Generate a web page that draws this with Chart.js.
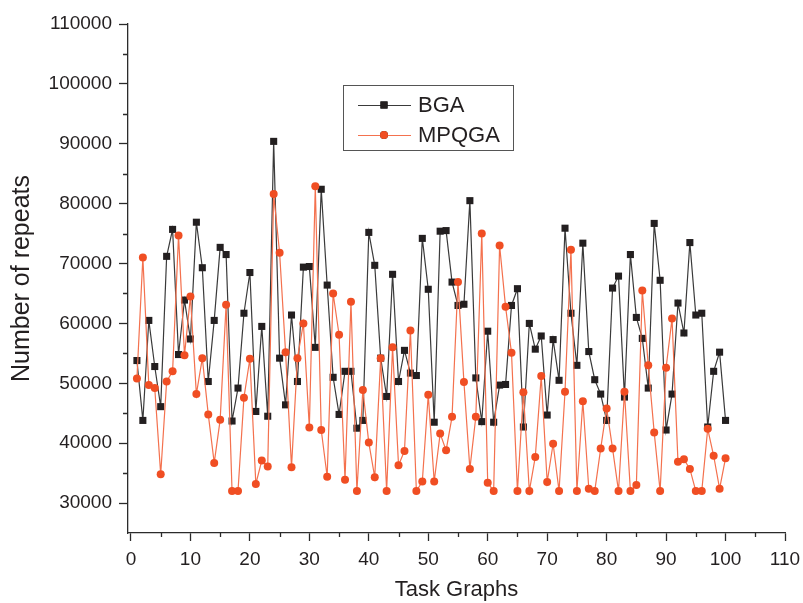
<!DOCTYPE html>
<html>
<head>
<meta charset="utf-8">
<script src="https://cdn.jsdelivr.net/npm/chart.js@4"></script>
<style>
  html, body { margin: 0; padding: 0; background: #fff; }
  #wrap { width: 803px; height: 603px; }
</style>
</head>
<body>
<div id="wrap"><canvas id="repeatsChart" width="803" height="603"></canvas></div>
<script>
const taskIds = [
  1, 2, 3, 4, 5, 6, 7, 8, 9, 10, 11, 12, 13, 14, 15, 16, 17, 18, 19, 20,
  21, 22, 23, 24, 25, 26, 27, 28, 29, 30, 31, 32, 33, 34, 35, 36, 37, 38, 39, 40,
  41, 42, 43, 44, 45, 46, 47, 48, 49, 50, 51, 52, 53, 54, 55, 56, 57, 58, 59, 60,
  61, 62, 63, 64, 65, 66, 67, 68, 69, 70, 71, 72, 73, 74, 75, 76, 77, 78, 79, 80,
  81, 82, 83, 84, 85, 86, 87, 88, 89, 90, 91, 92, 93, 94, 95, 96, 97, 98, 99, 100
];

const bgaRepeats = [
  53800, 43800, 60500, 52800, 46100, 71200, 75700, 54800, 63900, 57400,
  76900, 69300, 50300, 60500, 72700, 71500, 43700, 49200, 61700, 68500,
  45300, 59500, 44500, 90400, 54200, 46400, 61400, 50300, 69400, 69500,
  56000, 82400, 66400, 51000, 44800, 52000, 52000, 42500, 43800, 75200,
  69700, 54200, 47800, 68200, 50300, 55500, 51700, 51300, 74200, 65700,
  43500, 75400, 75500, 66900, 63000, 63200, 80500, 50900, 43600, 58700,
  43500, 49700, 49800, 63000, 65800, 42700, 60000, 55700, 57900, 44700,
  57300, 50500, 75900, 61700, 53000, 73400, 55300, 50600, 48200, 43800,
  65900, 67900, 47700, 71500, 61000, 57500, 49200, 76700, 67200, 42200,
  48200, 63400, 58400, 73500, 61400, 61700, 42700, 52000, 55200, 43800
];

const mpqgaRepeats = [
  50800, 71000, 49700, 49200, 34800, 50300, 52000, 74700, 54700, 64500,
  48200, 54200, 44800, 36700, 43900, 63100, 32000, 32000, 47600, 54100,
  33200, 37100, 36100, 81600, 71800, 55200, 36000, 54200, 60000, 42600,
  82900, 42200, 34400, 65000, 58100, 33900, 63600, 32000, 48900, 40100,
  34300, 54200, 32000, 56000, 36300, 38700, 58800, 32000, 33600, 48100,
  33600, 41600, 38800, 44400, 66900, 50200, 35700, 44400, 75000, 33400,
  32000, 73000, 62800, 55100, 32000, 48500, 32000, 37700, 51200, 33500,
  39900, 32000, 48600, 72300, 32000, 47000, 32400, 32000, 39100, 45800,
  39100, 32000, 48600, 32000, 33000, 65500, 53000, 41800, 32000, 52600,
  60800, 36900, 37300, 35700, 32000, 32000, 42400, 37900, 32400, 37500
];

const seriesNames = ["BGA", "MPQGA"];

const axisColor = "#2b2b2b";
const fontFamily = "'Liberation Sans', Arial, sans-serif";

// short minor ticks + boxed legend, drawn with the chart's own scales
const extrasPlugin = {
  id: "extras",
  afterDraw(chart) {
    const ctx = chart.ctx;
    const xs = chart.scales.x, ys = chart.scales.y;
    ctx.save();
    ctx.strokeStyle = axisColor;
    ctx.lineWidth = 1.3;
    ctx.beginPath();
    xs.ticks.forEach(t => {
      if (t.value % 10 !== 0) {
        const px = Math.round(xs.getPixelForValue(t.value)) + 0.5;
        ctx.moveTo(px, xs.top);
        ctx.lineTo(px, xs.top + 4);
      }
    });
    ys.ticks.forEach(t => {
      if (t.value % 10000 !== 0 && t.value !== ys.min) {
        const py = Math.round(ys.getPixelForValue(t.value)) + 0.5;
        ctx.moveTo(ys.right, py);
        ctx.lineTo(ys.right - 5, py);
      }
    });
    ctx.stroke();

    // legend box
    const bx = 343, by = 85, bw = 170, bh = 65;
    ctx.strokeStyle = "#555";
    ctx.lineWidth = 1;
    ctx.strokeRect(bx + 0.5, by + 0.5, bw, bh);
    ctx.font = "22px " + fontFamily;
    ctx.textBaseline = "middle";
    chart.data.datasets.forEach((ds, i) => {
      const cy = by + 20 + i * 30;
      ctx.strokeStyle = ds.borderColor;
      ctx.lineWidth = 1;
      ctx.beginPath();
      ctx.moveTo(bx + 15, cy + 0.5);
      ctx.lineTo(bx + 68, cy + 0.5);
      ctx.stroke();
      Chart.helpers.drawPoint(ctx, {
        pointStyle: ds.pointStyle,
        radius: ds.pointRadius,
        rotation: 0,
        borderWidth: 0
      }, bx + 41, cy);
      ctx.fillStyle = ds.pointBackgroundColor;
      ctx.fill();
      ctx.fillStyle = "#231f20";
      ctx.fillText(ds.label, bx + 75, cy + 1);
    });
    ctx.restore();
  }
};

const tickFont = { family: fontFamily, size: 19 };

new Chart(document.getElementById("repeatsChart"), {
  type: "line",
  data: {
    datasets: [
      {
        label: seriesNames[0],
        data: taskIds.map((t, i) => ({ x: t, y: bgaRepeats[i] })),
        borderColor: "#3a3a3a",
        backgroundColor: "#231f20",
        pointBackgroundColor: "#231f20",
        pointBorderWidth: 0,
        pointStyle: "rect",
        pointRadius: 5,
        borderWidth: 1.2,
        tension: 0,
        order: 1
      },
      {
        label: seriesNames[1],
        data: taskIds.map((t, i) => ({ x: t, y: mpqgaRepeats[i] })),
        borderColor: "#f4714e",
        backgroundColor: "#f04e23",
        pointBackgroundColor: "#f04e23",
        pointBorderWidth: 0,
        pointStyle: "circle",
        pointRadius: 4,
        borderWidth: 1.2,
        tension: 0,
        order: 0
      }
    ]
  },
  options: {
    responsive: false,
    animation: false,
    layout: { padding: { top: 24, right: 18, left: 0, bottom: 0 } },
    plugins: {
      legend: { display: false },
      tooltip: { enabled: false }
    },
    scales: {
      x: {
        type: "linear",
        min: -0.5,
        max: 110,
        afterFit: s => { s.height = 70; s.paddingLeft = 0; s.paddingRight = 0; },
        border: { color: axisColor, width: 1.3 },
        grid: {
          drawOnChartArea: false,
          tickLength: 8,
          tickWidth: 1.3,
          tickColor: c => (c.tick && c.tick.value % 10 === 0 ? axisColor : "rgba(0,0,0,0)")
        },
        ticks: {
          stepSize: 5,
          includeBounds: false,
          autoSkip: false,
          maxRotation: 0,
          padding: 7,
          color: "#231f20",
          font: tickFont,
          callback: v => (v % 10 === 0 ? String(v) : "")
        },
        title: {
          display: true,
          text: "Task Graphs",
          color: "#231f20",
          font: { family: fontFamily, size: 22 },
          padding: { top: 0, bottom: 0 }
        }
      },
      y: {
        min: 25000,
        max: 110000,
        afterFit: s => { s.width = 128; },
        border: { color: axisColor, width: 1.3 },
        grid: {
          drawOnChartArea: false,
          tickLength: 9,
          tickWidth: 1.3,
          tickColor: c => (c.tick && c.tick.value % 10000 === 0 ? axisColor : "rgba(0,0,0,0)")
        },
        ticks: {
          stepSize: 5000,
          autoSkip: false,
          padding: 7,
          color: "#231f20",
          font: tickFont,
          callback: v => (v % 10000 === 0 ? String(v) : "")
        },
        title: {
          display: true,
          text: "Number of repeats",
          color: "#231f20",
          font: { family: fontFamily, size: 25 },
          padding: { top: 7, bottom: 0 }
        }
      }
    }
  },
  plugins: [extrasPlugin]
});
</script>
</body>
</html>
